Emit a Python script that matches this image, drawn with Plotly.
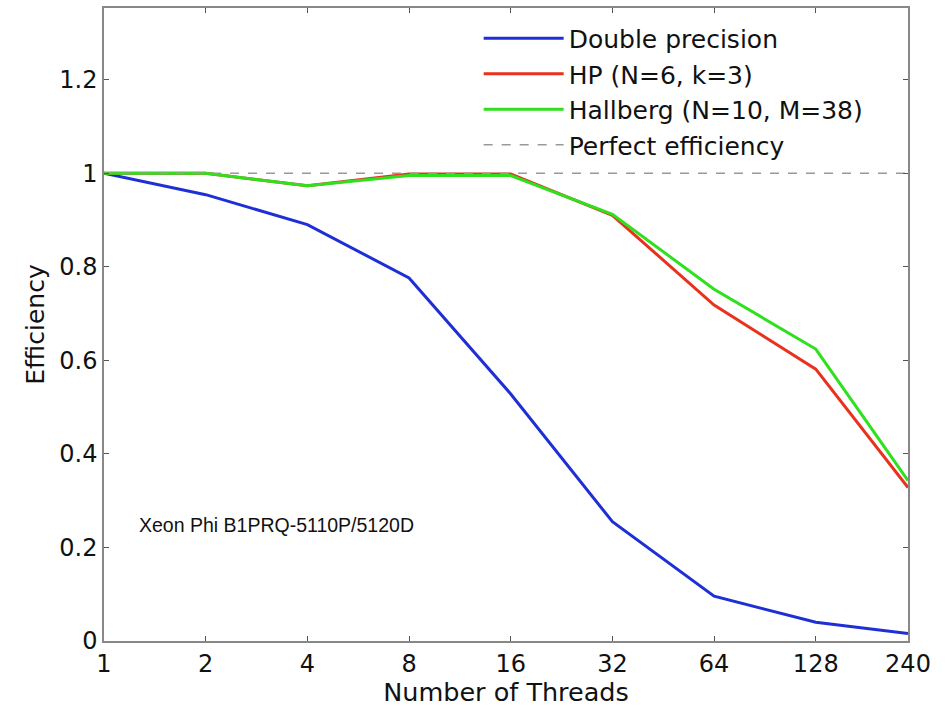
import plotly.graph_objects as go

threads = [1, 2, 4, 8, 16, 32, 64, 128, 240]
tick_labels = ["1", "2", "4", "8", "16", "32", "64", "128", "240"]
double_prec = [1.0, 0.954, 0.890, 0.776, 0.528, 0.255, 0.096, 0.040, 0.016]
hp = [1.0, 1.0, 0.973, 0.998, 0.998, 0.910, 0.718, 0.581, 0.328]
hallberg = [1.0, 1.0, 0.973, 0.995, 0.995, 0.912, 0.752, 0.624, 0.343]
perfect = [1, 1, 1, 1, 1, 1, 1, 1, 1]
y_ticks = [0, 0.2, 0.4, 0.6, 0.8, 1.0, 1.2]
y_tick_labels = ["0", "0.2", "0.4", "0.6", "0.8", "1", "1.2"]

FONT = "DejaVu Sans, Arial, sans-serif"
ANN_FONT = "Liberation Sans, Arial, sans-serif"

fig = go.Figure()
fig.add_trace(go.Scatter(x=threads, y=double_prec, mode="lines", name="Double precision",
                         line=dict(color="#1f2fd6", width=3)))
fig.add_trace(go.Scatter(x=threads, y=hp, mode="lines", name="HP (N=6, k=3)",
                         line=dict(color="#e8321e", width=3)))
fig.add_trace(go.Scatter(x=threads, y=hallberg, mode="lines", name="Hallberg (N=10, M=38)",
                         line=dict(color="#2ee01e", width=3)))
fig.add_trace(go.Scatter(x=threads, y=perfect, mode="lines", name="Perfect efficiency",
                         line=dict(color="#999999", width=1.5, dash="dash")))

fig.add_annotation(x=0.041, y=0.249, xref="paper", yref="y", text="Xeon Phi B1PRQ-5110P/5120D",
                   showarrow=False, xanchor="left", yanchor="middle",
                   font=dict(family=ANN_FONT, size=19.5, color="#111111"))

axis_common = dict(showline=True, linecolor="#888888", linewidth=1.5, mirror="ticks",
                   ticks="inside", ticklen=5, tickcolor="#555555", showgrid=False, zeroline=False,
                   tickfont=dict(family=FONT, size=24, color="#111111"))

fig.update_xaxes(type="log", range=[0, 2.380211], tickvals=threads, ticktext=tick_labels,
                 title=dict(text="Number of Threads", font=dict(family=FONT, size=25.5, color="#111111"),
                            standoff=4),
                 **axis_common)
fig.update_yaxes(range=[0, 1.353], tickvals=y_ticks, ticktext=y_tick_labels,
                 title=dict(text="Efficiency", font=dict(family=FONT, size=25, color="#111111"),
                            standoff=8),
                 **axis_common)

fig.update_layout(
    width=948, height=707,
    margin=dict(l=104, r=40, t=6, b=66),
    plot_bgcolor="white", paper_bgcolor="white",
    showlegend=True,
    legend=dict(x=0.466, y=0.988, xanchor="left", yanchor="top", bgcolor="rgba(255,255,255,0)",
                font=dict(family=FONT, size=25, color="#111111"), itemwidth=80,
                tracegroupgap=0),
)

fig.write_html("out.html")
